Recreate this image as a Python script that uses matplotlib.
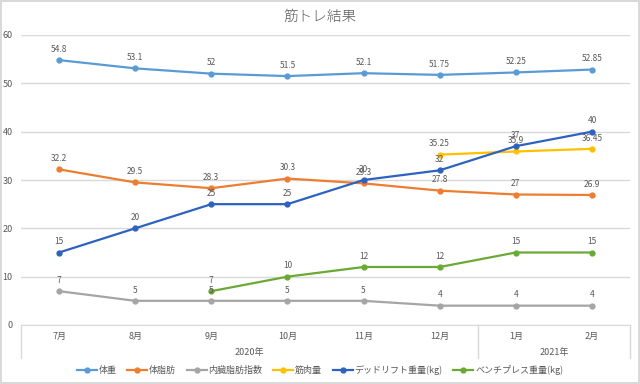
import matplotlib
matplotlib.use("Agg")
import matplotlib.pyplot as plt
import numpy as np

plt.rcParams['font.family'] = ['Noto Sans CJK JP', 'DejaVu Sans']

months = ['7月', '8月', '9月', '10月', '11月', '12月', '1月', '2月']
years = ['2020年', '2021年']
year_span = [6, 2]  # months in each year group

weight = [54.8, 53.1, 52, 51.5, 52.1, 51.75, 52.25, 52.85]
body_fat = [32.2, 29.5, 28.3, 30.3, 29.3, 27.8, 27, 26.9]
visceral = [7, 5, 5, 5, 5, 4, 4, 4]
muscle = [None, None, None, None, None, 35.25, 35.9, 36.45]
deadlift = [15, 20, 25, 25, 30, 32, 37, 40]
bench = [None, None, 7, 10, 12, 12, 15, 15]

names = ['体重', '体脂肪', '内臓脂肪指数', '筋肉量', 'デッドリフト重量(kg)', 'ベンチプレス重量(kg)']
colors = ['#5B9BD5', '#ED7D31', '#A5A5A5', '#FFC000', '#2E62C0', '#6AAA34']
series = [weight, body_fat, visceral, muscle, deadlift, bench]

grey = '#595959'
light = '#D9D9D9'

fig = plt.figure(figsize=(6.4, 3.84), dpi=100)
fig.patch.set_edgecolor(light)
fig.patch.set_linewidth(1.5)
ax = fig.add_axes([21 / 640, 1 - 325 / 384, 609 / 640, 290 / 384])

x = np.arange(len(months))
for vals, name, c in zip(series, names, colors):
    xs = [i for i, v in zip(x, vals) if v is not None]
    ys = [v for v in vals if v is not None]
    ax.plot(xs, ys, color=c, lw=1.6, marker='o', ms=3.5, label=name, zorder=3)
    for xi, yi in zip(xs, ys):
        ax.annotate(f'{yi:g}', (xi, yi), xytext=(0, 4.5), textcoords='offset points',
                    ha='center', va='bottom', fontsize=6, color=grey, zorder=4)

ax.set_xlim(-0.5, len(months) - 0.5)
ax.set_ylim(0, 60)
ax.set_yticks(range(0, 61, 10))
ax.grid(axis='y', color=light, lw=1)
ax.set_axisbelow(True)
for s in ['top', 'right', 'left']:
    ax.spines[s].set_visible(False)
ax.spines['bottom'].set_color(light)
ax.tick_params(axis='y', length=0, labelsize=6.5, labelcolor=grey, pad=6)
ax.set_xticks(x)
ax.set_xticklabels(months)
ax.tick_params(axis='x', length=0, labelsize=6.5, labelcolor=grey, pad=5)

# year group level of the category axis
tr = ax.get_xaxis_transform()
edges = np.concatenate([[0], np.cumsum(year_span)]) - 0.5
for e in edges:
    ax.plot([e, e], [0, -0.114], transform=tr, color=light, lw=1, clip_on=False)
for yl, a, b in zip(years, edges[:-1], edges[1:]):
    ax.text((a + b) / 2, -0.095, yl, transform=tr, ha='center', va='center',
            fontsize=6.5, color=grey)

fig.text(0.5, 1 - 17 / 384, '筋トレ結果', ha='center', va='center', fontsize=10.5,
         color=grey, fontweight='light')
fig.legend(loc='center', bbox_to_anchor=(0.5, 1 - 370 / 384), ncol=6, frameon=False,
           fontsize=6.5, labelcolor=grey, handlelength=2.2, columnspacing=1.2, handletextpad=0.2)

fig.savefig('out.png', dpi=100, edgecolor=fig.get_edgecolor())
